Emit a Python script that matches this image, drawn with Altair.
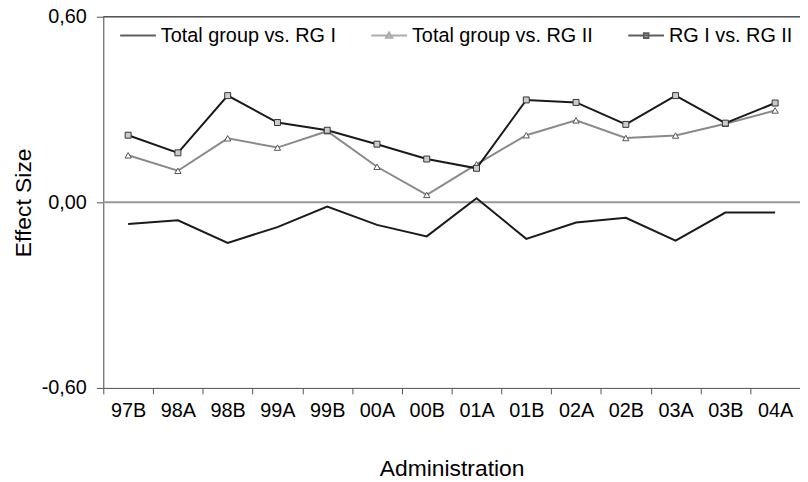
import altair as alt
import pandas as pd

categories = ["97B", "98A", "98B", "99A", "99B", "00A", "00B",
              "01A", "01B", "02A", "02B", "03A", "03B", "04A"]
series_names = ["Total group vs. RG I", "Total group vs. RG II", "RG I vs. RG II"]
total_vs_rg1 = [-0.070, -0.058, -0.131, -0.080, -0.014, -0.073, -0.110,
                0.013, -0.118, -0.065, -0.050, -0.124, -0.033, -0.033]
total_vs_rg2 = [0.152, 0.102, 0.207, 0.177, 0.230, 0.115, 0.024,
                0.123, 0.217, 0.265, 0.208, 0.216, 0.254, 0.297]
rg1_vs_rg2 = [0.217, 0.160, 0.345, 0.258, 0.233, 0.188, 0.140,
              0.110, 0.331, 0.323, 0.252, 0.345, 0.256, 0.321]
y_ticks = [-0.6, 0.0, 0.6]
line_colors = ["#1a1a1a", "#8a8a8a", "#1a1a1a"]
marker_fills = ["transparent", "#ffffff", "#cccccc"]
legend_paths = [
    "M-1,0L1,0",
    "M-1,0L1,0M-0.17,0.12L0.17,0.12L0,-0.17Z",
    "M-1,0L1,0M-0.13,-0.13L0.13,-0.13L0.13,0.13L-0.13,0.13Z",
]

rows = []
for name, vals in zip(series_names, [total_vs_rg1, total_vs_rg2, rg1_vs_rg2]):
    for c, v in zip(categories, vals):
        rows.append({"cat": c, "series": name, "value": v})
df = pd.DataFrame(rows)

FONT = "Liberation Sans"
y_scale = alt.Scale(domain=[-0.6, 0.6], nice=False, zero=False)

x_enc = alt.X(
    "cat:N", sort=categories,
    scale=alt.Scale(type="band", domain=categories, paddingInner=0, paddingOuter=0),
    axis=alt.Axis(title="Administration", labelAngle=0, tickBand="extent",
                  tickSize=6, labelPadding=7, labelFontSize=20, titleFontSize=23,
                  titlePadding=37, titleFontWeight="normal", domainColor="#555",
                  tickColor="#555", labelColor="black", titleColor="black",
                  grid=False, labelFont=FONT, titleFont=FONT),
)
y_enc = alt.Y(
    "value:Q", scale=y_scale,
    axis=alt.Axis(title="Effect Size", values=y_ticks,
                  labelExpr="(datum.value < 0 ? '-' : '') + replace(format(abs(datum.value), '.2f'), '.', ',')",
                  tickSize=7, labelPadding=10, labelFontSize=20, titleFontSize=23,
                  titlePadding=6, titleFontWeight="normal", domainColor="#555",
                  tickColor="#555", labelColor="black", titleColor="black",
                  grid=False, labelFont=FONT, titleFont=FONT),
)

top_rule = alt.Chart(pd.DataFrame({"y": [0.6]})).mark_rule(
    color="#555555", strokeWidth=1.5).encode(y=alt.Y("y:Q", scale=y_scale))
zero_rule = alt.Chart(pd.DataFrame({"y": [0.0]})).mark_rule(
    color="#999999", strokeWidth=2).encode(y=alt.Y("y:Q", scale=y_scale))

line_layers = []
for name, col in zip(series_names, line_colors):
    line_layers.append(
        alt.Chart(df).transform_filter(alt.datum.series == name)
        .mark_line(strokeWidth=2, color=col).encode(x=x_enc, y=y_enc)
    )

tri = alt.Chart(df).transform_filter(
    alt.datum.series == series_names[1]
).mark_point(shape="triangle-up", size=40, filled=True, fill="white",
             stroke="#555555", strokeWidth=1, opacity=1).encode(x=x_enc, y=y_enc)

sq = alt.Chart(df).transform_filter(
    alt.datum.series == series_names[2]
).mark_point(shape="square", size=36, filled=True, fill="#cccccc",
             stroke="#333333", strokeWidth=1, opacity=1).encode(x=x_enc, y=y_enc)

leg = alt.Legend(title=None, orient="none", legendX=16, legendY=0, direction="horizontal",
                 columns=3, symbolSize=1296, symbolStrokeWidth=2, labelLimit=0,
                 labelFontSize=20, labelFont=FONT, labelColor="black", labelOffset=4,
                 columnPadding=31, padding=0, gridAlign="each")
# legend-only layer: no rows drawn, legend built from the explicit scale domains
legend_layer = alt.Chart(df).transform_filter("false").mark_point(
    filled=False, strokeWidth=2).encode(
    x=x_enc, y=y_enc,
    shape=alt.Shape("series:N", scale=alt.Scale(domain=series_names, range=legend_paths), legend=leg),
    color=alt.Color("series:N", scale=alt.Scale(domain=series_names, range=line_colors), legend=leg),
    fill=alt.Fill("series:N", scale=alt.Scale(domain=series_names, range=marker_fills), legend=leg),
)

chart = alt.layer(top_rule, zero_rule, *line_layers, tri, sq, legend_layer).properties(
    width=702, height=374,
    autosize=alt.AutoSizeParams(type="none"),
    padding={"left": 96, "top": 7, "right": 0, "bottom": 95},
).configure_view(strokeWidth=0).configure(font=FONT)

chart.save("out.html", embed_options={"renderer": "svg", "actions": False})
